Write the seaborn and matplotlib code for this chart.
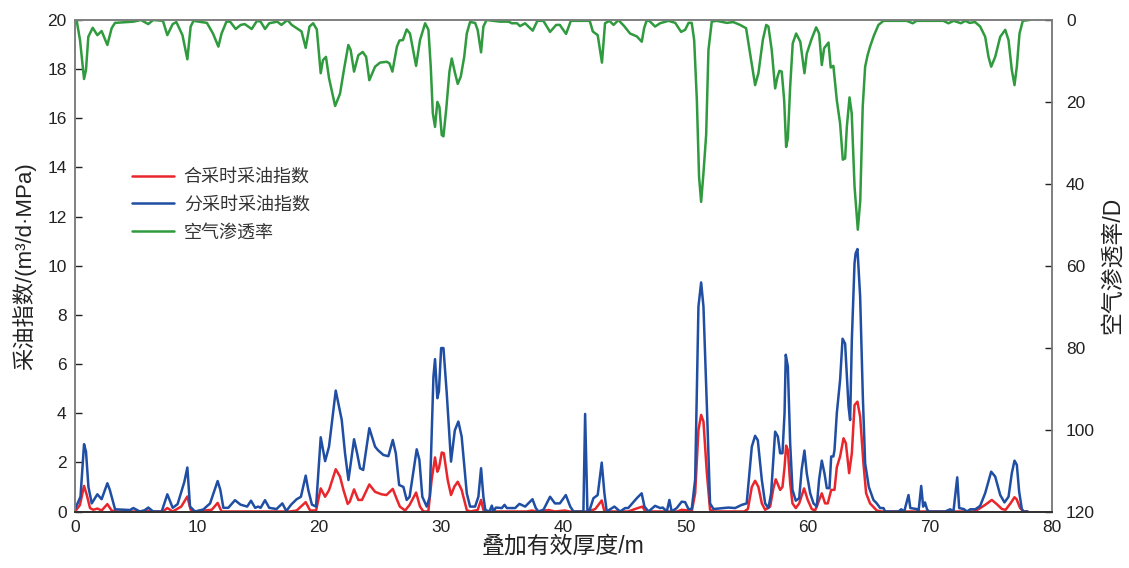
import matplotlib
matplotlib.use("Agg")
import matplotlib.pyplot as plt
from matplotlib.ticker import MultipleLocator
import seaborn as sns

# 分采时采油指数 (m3/d·MPa) vs 叠加有效厚度 (m)
split_x = [0, 0.45, 0.74, 0.9, 1.1, 1.37, 1.83, 2.18, 2.65, 2.85, 3.28, 4.5, 4.78, 5.3, 5.7, 6.0, 6.4, 7.1,
           7.56, 8.0, 8.4, 8.95, 9.2, 9.42, 9.83, 10.5, 11.06, 11.68, 11.9, 12.15, 12.55, 13.1, 13.55, 14.1,
           14.41, 14.75, 15.0, 15.2, 15.56, 15.9, 16.5, 16.98, 17.3, 17.7, 18.15, 18.5, 18.89, 19.1, 19.4,
           19.74, 20.12, 20.48, 20.8, 21.35, 21.84, 22.11, 22.39, 22.85, 23.1, 23.34, 23.6, 24.1, 24.57,
           24.8, 25.25, 25.66, 26.02, 26.27, 26.54, 26.89, 27.16, 27.4, 27.98, 28.2, 28.44, 28.8, 29.05,
           29.35, 29.48, 29.67, 29.8, 29.98, 30.17, 30.44, 30.79, 31.1, 31.39, 31.66, 32.08, 32.35, 32.76,
           33.03, 33.25, 33.44, 33.6, 33.94, 34.13, 34.27, 34.46, 34.95, 35.17, 35.36, 36.04, 36.39, 36.86,
           37.46, 37.73, 37.95, 38.36, 38.9, 39.3, 39.7, 40.19, 40.55, 40.82, 41.63, 41.77, 41.96, 42.1,
           42.45, 42.8, 43.13, 43.35, 43.54, 44.17, 44.63, 45.05, 45.3, 46.0, 46.4, 46.63, 46.96, 47.5,
           47.92, 48.13, 48.46, 48.67, 48.86, 49.27, 49.68, 49.96, 50.23, 50.5, 50.78, 51.05, 51.27, 51.46,
           51.74, 52.0, 52.28, 53.5, 54.05, 54.6, 55.0, 55.42, 55.69, 55.91, 56.24, 56.51, 56.78, 57.0,
           57.33, 57.55, 57.74, 57.93, 58.1, 58.2, 58.37, 58.56, 58.75, 59.02, 59.3, 59.5, 59.73, 59.92,
           60.2, 60.47, 60.74, 60.93, 61.15, 61.37, 61.56, 61.78, 61.92, 62.1, 62.19, 62.38, 62.65, 62.85,
           63.06, 63.34, 63.47, 63.61, 63.83, 63.92, 64.07, 64.29, 64.51, 64.7, 65.0, 65.38, 65.65, 65.93,
           66.2, 66.34, 67.43, 67.65, 67.9, 68.25, 68.4, 68.93, 69.07, 69.29, 69.45, 69.6, 69.78, 69.95,
           71.25, 71.66, 71.93, 72.24, 72.4, 72.77, 73.04, 73.31, 73.72, 74.12, 74.53, 75.02, 75.35, 75.76,
           76.11, 76.44, 76.71, 76.93, 77.12, 77.31, 77.53, 77.67, 78.0]
split_y = [0.1, 0.6, 2.74, 2.44, 1.0, 0.33, 0.70, 0.5, 1.15, 0.88, 0.09, 0.06, 0.14, 0, 0.05, 0.16, 0, 0,
           0.70, 0.15, 0.3, 1.2, 1.79, 0.2, 0, 0.08, 0.33, 1.24, 0.88, 0.15, 0.15, 0.46, 0.28, 0.2,
           0.44, 0.15, 0.2, 0.15, 0.46, 0.15, 0.1, 0.33, 0.02, 0.28, 0.5, 0.6, 1.46, 0.88, 0.28,
           0.2, 3.02, 2.05, 2.64, 4.92, 3.73, 2.37, 1.28, 2.94, 2.37, 1.76, 1.69, 3.39, 2.64,
           2.5, 2.3, 2.25, 2.91, 2.37, 1.08, 1.0, 0.47, 0.6, 2.53, 2.1, 0.6, 0.2, 0.6,
           5.49, 6.2, 4.61, 4.9, 6.65, 6.65, 4.81, 2.03, 3.3, 3.66, 3.05, 0.74, 0.2, 0.2,
           0.6, 1.76, 0.6, 0.06, 0, 0.24, 0, 0.16, 0.14, 0.27, 0.14, 0.14, 0.31, 0.2,
           0.5, 0.14, 0, 0.07, 0.6, 0.33, 0.33, 0.67, 0.2, 0, 0, 3.97, 0, 0,
           0.54, 0.67, 1.99, 0.74, 0, 0.2, 0, 0.14, 0.14, 0.54, 0.74, 0.2, 0, 0.23,
           0.14, 0.16, 0, 0.47, 0, 0.14, 0.4, 0.38, 0.1, 0.1, 1.3, 8.34, 9.32, 8.34,
           4.27, 0.33, 0.1, 0.16, 0.14, 0.27, 0.33, 2.64, 3.08, 2.9, 1.28, 0.33, 0.14, 0.74,
           3.25, 3.05, 2.37, 2.37, 4.0, 6.38, 5.9, 2.78, 0.88, 0.44, 0.54, 1.7, 2.48, 1.55,
           0.74, 0.33, 0.2, 1.3, 2.07, 1.55, 0.95, 0.95, 2.24, 2.24, 2.5, 4.0, 5.36, 7.03,
           6.83, 4.27, 3.72, 6.98, 10.1, 10.5, 10.68, 8.75, 4.68, 1.96, 1.0, 0.47, 0.33, 0.14,
           0.14, 0, 0, 0.09, 0, 0.67, 0.14, 0.1, 0, 1.04, 0.2, 0.37, 0.07, 0,
           0, 0.09, 0, 1.39, 0.14, 0.1, 0, 0.09, 0.09, 0.23, 0.75, 1.62, 1.42, 0.67,
           0.37, 0.6, 1.56, 2.07, 1.9, 0.81, 0.1, 0, 0]

# 合采时采油指数
comb_x = [0, 0.4, 0.74, 0.96, 1.23, 1.5, 1.83, 2.18, 2.65, 3.0, 3.4, 5.6, 5.9, 6.2, 7.2, 7.56, 8.0, 8.7,
          9.2, 9.47, 9.83, 11.2, 11.68, 12.0, 17.6, 18.15, 18.89, 19.25, 19.74, 20.12, 20.48, 20.8, 21.35,
          21.7, 21.98, 22.33, 22.5, 22.85, 23.2, 23.5, 24.1, 24.57, 25.1, 25.5, 26.02, 26.35, 26.6, 27.03,
          27.4, 27.93, 28.25, 28.53, 28.93, 29.2, 29.48, 29.67, 29.8, 30.03, 30.2, 30.52, 30.79, 31.06,
          31.34, 31.66, 32.08, 32.35, 32.97, 33.25, 33.44, 33.6, 37.0, 37.4, 37.8, 38.8, 39.3, 40.1, 40.5,
          42.04, 42.6, 43.13, 43.35, 45.3, 45.85, 46.46, 46.7, 49.3, 49.68, 50.23, 50.5, 50.78, 51.05,
          51.27, 51.46, 51.74, 52.0, 52.28, 54.8, 55.1, 55.42, 55.69, 55.96, 56.24, 56.51, 56.92, 57.19,
          57.38, 57.74, 57.93, 58.1, 58.23, 58.37, 58.56, 58.75, 59.02, 59.3, 59.7, 60.0, 60.33, 60.6,
          60.88, 61.15, 61.42, 61.64, 61.92, 62.19, 62.38, 62.65, 62.93, 63.12, 63.39, 63.61, 63.83,
          64.07, 64.29, 64.56, 64.78, 65.1, 65.65, 66.0, 73.6, 74.0, 74.53, 75.07, 75.48, 75.9, 76.2,
          76.6, 76.93, 77.1, 77.39, 77.67, 78.0]
comb_y = [0, 0.26, 1.04, 0.68, 0.14, 0.07, 0.12, 0.04, 0.3, 0.04, 0, 0, 0.04, 0, 0, 0.14, 0, 0.2,
          0.61, 0.07, 0, 0.07, 0.35, 0, 0, 0.04, 0.38, 0.04, 0.04, 0.94, 0.6, 0.87, 1.72,
          1.42, 0.88, 0.31, 0.4, 0.9, 0.47, 0.47, 1.1, 0.8, 0.7, 0.67, 0.92, 0.5, 0.2, 0.04,
          0.27, 0.77, 0.2, 0, 0, 1.28, 2.2, 1.62, 1.76, 2.4, 2.37, 1.28, 0.67, 1.01,
          1.21, 0.88, 0.06, 0, 0.06, 0.47, 0.06, 0, 0, 0.04, 0, 0.06, 0, 0.04, 0,
          0, 0.1, 0.45, 0, 0, 0.1, 0.2, 0, 0, 0.07, 0.04, 0, 0.74, 3.32,
          3.93, 3.66, 1.56, 0.07, 0, 0, 0.1, 1.0, 1.25, 1.0, 0.33, 0.07, 0.2, 0.95,
          1.31, 0.88, 1.0, 1.8, 2.68, 2.5, 1.15, 0.33, 0.14, 0.33, 0.94, 0.47, 0.1, 0.04,
          0.4, 0.74, 0.33, 0.33, 0.88, 0.88, 1.8, 2.24, 2.98, 2.78, 1.56, 2.37, 4.33,
          4.47, 3.86, 1.96, 0.74, 0.33, 0.04, 0, 0, 0.1, 0.27, 0.47, 0.3, 0.1, 0.07,
          0.33, 0.58, 0.5, 0.14, 0, 0]

# 空气渗透率 (D), right axis, inverted
perm_x = [0, 0.14, 0.41, 0.74, 0.9, 1.09, 1.45, 1.83, 2.18, 2.65, 3.0, 3.28, 4.78, 5.4, 6.0, 6.4, 7.2,
          7.56, 8.0, 8.3, 8.8, 9.2, 9.47, 9.7, 10.8, 11.3, 11.74, 12.0, 12.4, 12.7, 13.16, 13.57, 13.9,
          14.47, 14.9, 15.2, 15.56, 15.9, 16.56, 16.9, 17.4, 17.75, 18.3, 18.55, 18.89, 19.2, 19.5, 19.8,
          20.12, 20.3, 20.55, 20.8, 21.3, 21.7, 22.03, 22.38, 22.57, 22.85, 23.2, 23.56, 23.84, 24.1,
          24.57, 24.98, 25.53, 25.75, 25.99, 26.36, 26.57, 26.85, 27.16, 27.43, 27.93, 28.25, 28.67,
          28.94, 29.13, 29.3, 29.48, 29.67, 29.84, 30.03, 30.17, 30.39, 30.66, 30.85, 31.12, 31.34,
          31.59, 31.87, 32.08, 32.35, 32.76, 32.97, 33.25, 33.44, 33.7, 34.8, 35.5, 35.77, 36.2, 36.44,
          36.85, 37.48, 37.86, 38.35, 38.9, 39.4, 39.7, 40.21, 40.6, 42.15, 42.4, 42.8, 43.15, 43.4,
          43.76, 44.1, 44.5, 45.0, 45.45, 46.0, 46.41, 46.6, 46.8, 47.03, 47.5, 47.9, 48.6, 49.15, 49.63,
          49.96, 50.24, 50.5, 50.7, 50.92, 51.1, 51.27, 51.46, 51.68, 51.87, 52.14, 52.55, 53.37, 53.9,
          54.46, 54.95, 55.28, 55.69, 55.96, 56.32, 56.6, 56.78, 57.05, 57.33, 57.52, 57.68, 57.87,
          58.07, 58.23, 58.37, 58.56, 58.77, 59.05, 59.39, 59.73, 59.92, 60.33, 60.69, 60.93, 61.15,
          61.34, 61.7, 61.88, 62.1, 62.38, 62.65, 62.87, 63.06, 63.2, 63.42, 63.6, 63.83, 64.1, 64.3,
          64.5, 64.7, 64.9, 65.1, 65.43, 65.79, 66.2, 68.1, 68.6, 68.9, 71.1, 71.52, 71.95, 72.54,
          72.9, 73.25, 73.7, 74.12, 74.53, 74.8, 75.02, 75.35, 75.76, 76.17, 76.44, 76.71, 76.93,
          77.12, 77.34, 77.61, 78.15]
perm_y = [0, 0.2, 4.9, 14.4, 12.2, 4.1, 1.9, 3.7, 2.7, 6.1, 2.0, 0.7, 0.4, 0, 1.0, 0, 0.2,
          3.7, 1.0, 0.5, 3.7, 9.6, 1.6, 0.2, 0.7, 3.3, 6.5, 3.3, 0.4, 0.4, 2.2, 1.2, 1.0,
          2.2, 0.2, 0.4, 2.2, 0.8, 0.4, 1.2, 0, 1.2, 2.3, 2.8, 6.8, 1.6, 0.8, 2.3,
          13.0, 9.8, 9.0, 14.2, 21.0, 18.0, 12.0, 6.1, 7.3, 12.6, 8.6, 7.8, 9.0, 14.7,
          11.4, 10.4, 10.2, 10.6, 12.6, 6.5, 5.0, 4.9, 2.3, 3.3, 11.2, 4.9, 0.8,
          2.4, 11.4, 22.8, 26.1, 20.0, 21.2, 28.1, 28.4, 22.0, 12.6, 9.4, 13.0, 15.6,
          13.8, 9.0, 3.3, 0.5, 0.7, 2.4, 7.9, 1.6, 0, 0.4, 0.4, 0.8, 0.8, 1.5,
          0.8, 2.6, 0.2, 0.2, 2.9, 1.2, 1.2, 3.4, 0.2, 0.2, 2.8, 3.7, 10.4, 0.8,
          0.2, 1.2, 0, 1.6, 3.3, 4.0, 5.3, 2.0, 0.2, 0.2, 1.6, 0.8, 0.2, 0.7, 2.9,
          2.4, 0.7, 0.7, 4.9, 19.6, 38.3, 44.4, 37.4, 28.1, 7.3, 0.4, 0.2, 0.7, 0.5,
          1.2, 2.0, 8.2, 15.9, 13.0, 4.9, 1.2, 1.6, 7.3, 16.7, 13.9, 12.4, 12.6,
          19.6, 31.0, 28.9, 16.3, 5.7, 3.3, 5.3, 13.0, 8.2, 4.5, 1.8, 3.3, 11.0,
          6.9, 5.5, 11.6, 11.2, 19.6, 25.3, 34.1, 33.8, 26.1, 18.9, 22.8, 40.6, 51.2, 44.0,
          21.2, 11.4, 8.6, 6.5, 3.7, 1.2, 0.2, 0.2, 0.8, 0.2, 0.2, 0.8, 0.2, 0.8,
          0.2, 0.7, 0.5, 1.6, 4.1, 9.0, 11.4, 9.0, 4.1, 2.4, 4.9, 12.2, 15.9,
          11.4, 3.3, 0.2, 0]

labels = ["合采时采油指数", "分采时采油指数", "空气渗透率"]
colors = ["#e8262c", "#1f4ea3", "#2f9a3e"]

sns.set_style("white")
plt.rcParams["font.family"] = ["Liberation Sans", "Noto Sans CJK SC", "DejaVu Sans"]
plt.rcParams["axes.unicode_minus"] = False

fig = plt.figure(figsize=(11.29, 5.68), dpi=100)
ax = fig.add_axes([75 / 1129, 1 - 511.5 / 568, 977 / 1129, 491.5 / 568])
ax2 = ax.twinx()

line_kw = dict(linewidth=1.8, estimator=None, sort=False, legend=False,
               solid_joinstyle="round", solid_capstyle="round")
sns.lineplot(x=comb_x, y=comb_y, ax=ax, color=colors[0], label=labels[0], **line_kw)
sns.lineplot(x=split_x, y=split_y, ax=ax, color=colors[1], label=labels[1], **line_kw)
sns.lineplot(x=perm_x, y=perm_y, ax=ax2, color=colors[2], label=labels[2], **line_kw)

ax.set_xlim(0, 80)
ax.set_ylim(0, 20)
ax2.set_ylim(120, 0)

ax.xaxis.set_major_locator(MultipleLocator(10))
ax.xaxis.set_minor_locator(MultipleLocator(2))
ax.yaxis.set_major_locator(MultipleLocator(2))
ax2.yaxis.set_major_locator(MultipleLocator(20))

ax.tick_params(axis="both", which="major", direction="in", length=5, width=1,
               labelsize=12.5, colors="#222222", pad=6)
ax.tick_params(axis="x", which="minor", direction="in", length=3.5, width=1, colors="#222222")
ax2.tick_params(axis="y", which="major", direction="in", length=5, width=1,
                labelsize=12.5, colors="#222222", pad=10)

for a in (ax, ax2):
    for side in ("left", "right", "top"):
        a.spines[side].set_color("#7f7f7f")
        a.spines[side].set_linewidth(1.2)
    a.spines["bottom"].set_color("#333333")
    a.spines["bottom"].set_linewidth(1.4)

ax.set_xlabel("叠加有效厚度/m", fontsize=16.5, color="#222222", labelpad=0)
ax.set_ylabel("采油指数/(m³/d·MPa)", fontsize=16, color="#222222", labelpad=8)
ax2.set_ylabel("空气渗透率/D", fontsize=16.5, color="#222222", labelpad=4)

handles = ax.get_lines()[:2] + ax2.get_lines()[:1]
leg = ax.legend(handles, labels, loc="upper left", bbox_to_anchor=(0.042, 0.73),
                frameon=False, fontsize=13, handlelength=2.3, handletextpad=0.55,
                labelspacing=0.6)
for t in leg.get_texts():
    t.set_color("#333333")

fig.savefig("out.png", dpi=100)
